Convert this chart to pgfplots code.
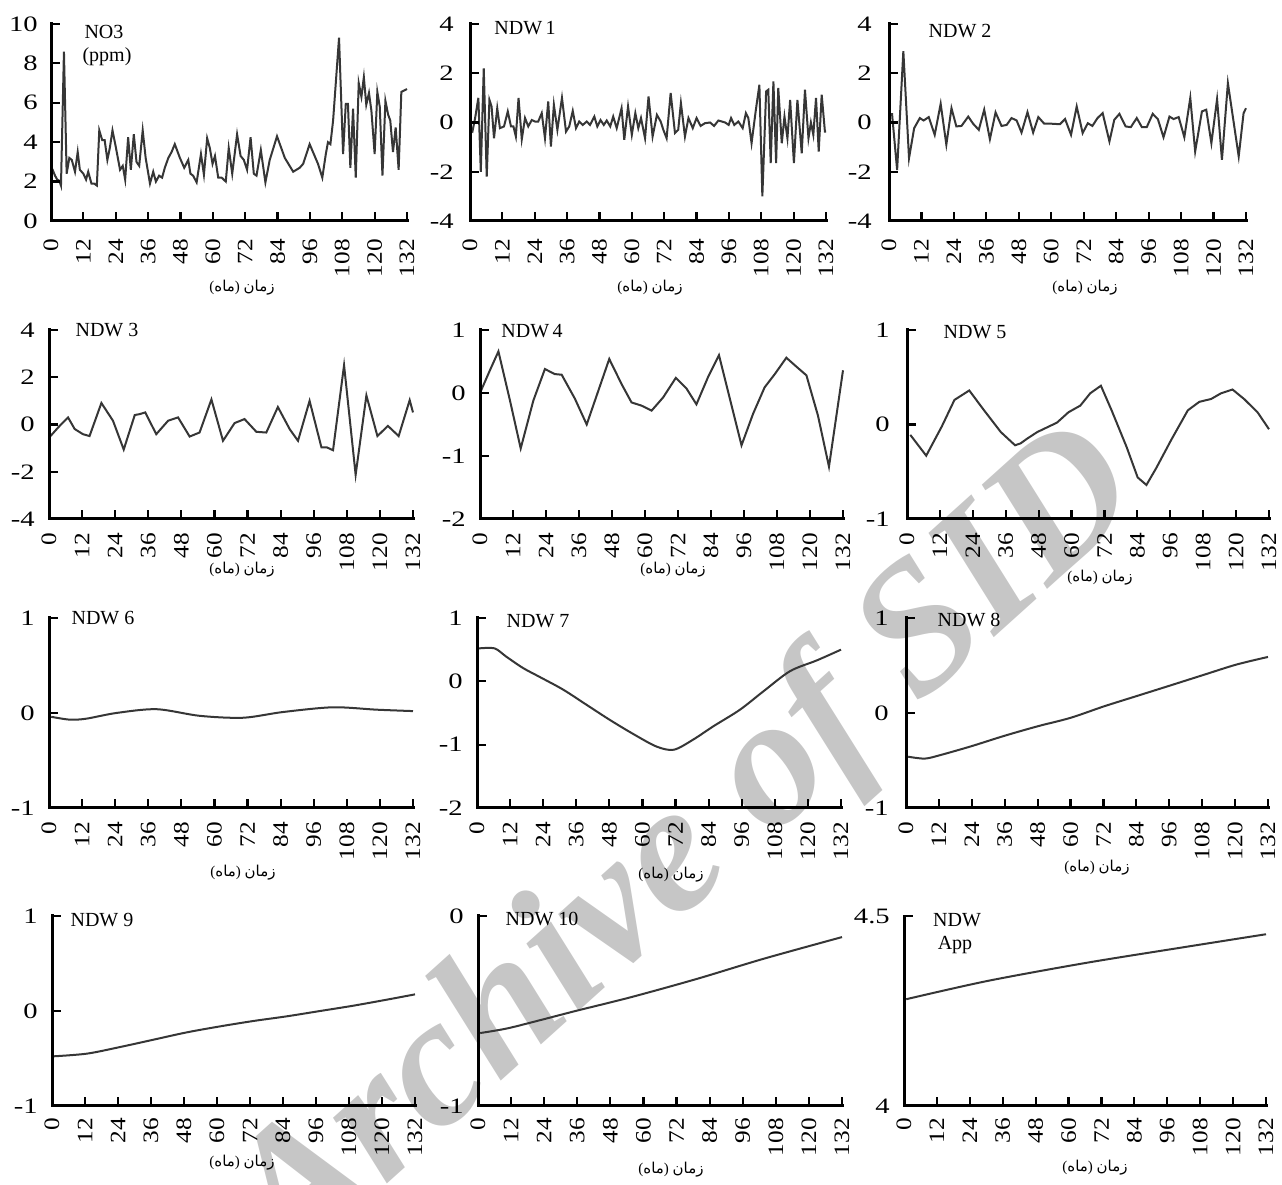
\documentclass[border=0pt]{standalone}
\usepackage{pgfplots}
\pgfplotsset{compat=1.18}
\usepackage{fontspec}
\setmainfont{Liberation Serif}
\newfontfamily\arabicfont[Script=Arabic]{DejaVu Sans}
\TeXXeTstate=1
\definecolor{linegray}{HTML}{363636}
\definecolor{wmgray}{HTML}{C6C6C6}
\tikzset{dline/.style={draw=linegray, line width=2pt, mark=none}}
\def\yfracs{1}
\newcommand{\paneldeco}{%
  \foreach \fx in {0.090909,0.181818,0.272727,0.363636,0.454545,0.545455,0.636364,0.727273,0.818182,0.909091,1}
    {\edef\temp{\noexpand\draw[black, line width=2.2pt] (rel axis cs:\fx,0) -- ++(0pt,9pt);}\temp}%
  \foreach \fy in \yfracs
    {\edef\temp{\noexpand\draw[black, line width=2.2pt] (rel axis cs:0,\fy) -- ++(9pt,0pt);}\temp}%
  \draw[black, line width=3pt, line cap=rect] (rel axis cs:0,1) -- (rel axis cs:0,0) -- (rel axis cs:1,0);}
\pgfplotsset{panel/.style={
  scale only axis,
  axis line style={draw=none},
  xmin=0, xmax=132,
  xtick={0,12,...,132},
  xtick pos=left, ytick pos=left,
  tick align=inside,
  major tick length=9pt,
  every major tick/.append style={draw=black, line width=2.2pt},
  xticklabel style={rotate=90, anchor=east, inner sep=0pt, font=\fontsize{22}{22}\selectfont, xscale=1.15},
  yticklabel style={anchor=east, inner sep=0pt, font=\fontsize{22}{22}\selectfont, xscale=1.3},
  xticklabel shift=14pt,
  yticklabel shift=14pt,
  /pgf/number format/assume math mode=true,
  clip=false,
  execute at end axis={\paneldeco},
}}
\newcommand{\xlab}[2]{\node[font=\fontsize{15}{15}\selectfont, inner sep=0pt] at (#1pt,#2pt) {(\arabicfont\beginR ماه\endR\normalfont)\ {\arabicfont\beginR زمان\endR}};}
\newcommand{\ttl}[3]{\node[font=\fontsize{20}{20}\selectfont, anchor=base, inner sep=0pt] at (#1pt,#2pt) {#3};}
\begin{document}
\begin{tikzpicture}
\useasboundingbox (0pt,0pt) rectangle (1282pt,1185pt);
% watermark (background)
\node[rotate=42, text=wmgray, font=\fontsize{185}{185}\selectfont\bfseries\itshape, inner sep=0pt] at (690pt,335pt) {Archive of SID};
% ---------------- Row 1
\def\yfracs{0.2,0.4,0.6,0.8,1}
\begin{axis}[panel, xticklabel shift=18pt, yticklabel shift=13pt, at={(51pt,964pt)}, anchor=south west, width=356pt, height=197pt, ymin=0, ymax=10, ytick={0,2,...,10}]
\addplot[dline] coordinates {(0.5,2.64)(1.5,2.3)(2.3,2.1)(3.1,2.04)(3.7,1.8)(4.8,8.6)(5.8,2.4)(6.8,3.2)(7.7,3.1)(8.9,2.5)(9.9,3.5)(10.7,2.6)(12,2.4)(13,2.1)(13.8,2.5)(15,1.9)(16,1.9)(17,1.8)(17.9,4.6)(19,4.1)(19.9,4.1)(20.9,3.1)(21.8,3.7)(22.8,4.6)(24.1,3.7)(25.6,2.6)(26.6,2.8)(27.5,2.1)(28.6,4.25)(29.6,2.6)(30.7,4.4)(31.7,3.0)(32.7,2.8)(34,4.6)(35.1,3.2)(36.7,1.9)(37.9,2.5)(38.9,2.0)(40.1,2.3)(41.2,2.2)(42.2,2.7)(43.5,3.2)(44.7,3.5)(45.9,3.9)(47.8,3.2)(49.4,2.7)(50.9,3.1)(51.7,2.4)(52.7,2.3)(54,1.96)(55.6,3.4)(56.7,2.35)(57.9,4.2)(58.9,3.7)(59.9,2.9)(60.8,3.3)(62,2.2)(63.3,2.2)(64.8,2.0)(65.9,3.7)(67.2,2.4)(69,4.4)(70.3,3.3)(71.5,3.1)(72.7,2.6)(74,4.25)(75.2,2.4)(76.2,2.3)(77.8,3.6)(79.5,1.96)(81.1,3.1)(83.8,4.3)(86.7,3.2)(89.8,2.5)(92.2,2.7)(93.5,2.9)(95.9,3.9)(99,2.9)(100.6,2.2)(101.9,3.4)(102.7,4.0)(103.6,3.9)(104.6,5.1)(106.8,9.3)(108.3,3.4)(109.3,5.95)(110.1,5.95)(111,2.7)(112,5.7)(113,2.2)(114.1,7.0)(115.1,6.3)(116,7.3)(116.9,5.9)(117.9,6.5)(118.8,5.6)(120,3.4)(121,6.55)(121.9,5.8)(122.9,2.3)(124,6.1)(125,5.4)(125.8,5.1)(126.8,3.5)(127.8,4.75)(128.9,2.6)(129.9,6.55)(132,6.7)};
\end{axis}
\def\yfracs{0.25,0.5,0.75,1}
\begin{axis}[panel, xticklabel shift=18pt, yticklabel shift=16pt, at={(470pt,964pt)}, anchor=south west, width=356pt, height=197pt, ymin=-4, ymax=4, ytick={-4,-2,...,4}]
\addplot[dline] coordinates {(0,-0.3)(0.9,-0.37)(1.9,0.18)(3.1,1.0)(4,-2.0)(5.1,2.2)(6.2,-2.2)(7.2,0.92)(8.0,0.65)(8.9,-0.64)(10.1,0.58)(11.1,-0.23)(12.6,-0.16)(14,0.45)(15.2,-0.16)(16.1,-0.16)(17,-0.57)(18,1.0)(19.2,-0.68)(20.4,0.18)(21.6,-0.16)(22.9,0.1)(24.1,0.04)(25.3,0.04)(26.6,0.38)(27.8,-0.64)(29,0.85)(30,-0.98)(31.1,0.72)(32.4,-0.3)(34.1,1.0)(35.6,-0.37)(36.8,-0.16)(38.1,0.47)(39.3,-0.23)(40.5,0.04)(41.8,-0.1)(43.3,0.04)(44.5,-0.1)(46.1,0.24)(47.2,-0.16)(48.4,0.1)(49.6,-0.1)(50.7,0.08)(52,-0.16)(53.1,0.24)(54.4,-0.23)(56.2,0.58)(57.2,-0.7)(58.6,0.65)(60,-0.5)(61.3,0.38)(62.4,-0.23)(63.4,0.18)(64.9,-0.64)(66.2,1.06)(67.7,-0.57)(69.3,0.31)(70.7,0.04)(71.7,-0.3)(72.9,-0.64)(74.4,1.2)(76,-0.43)(77.2,-0.3)(78.2,0.79)(79.7,-0.57)(81,0.18)(82.6,-0.23)(84,0.18)(85.5,-0.14)(87.1,-0.03)(89,0)(90.5,-0.14)(92.1,0.08)(94.6,0)(95.9,-0.1)(96.8,0.18)(98,-0.1)(99.5,0.04)(101.1,-0.23)(102.3,0.38)(103.2,0.18)(104.4,-0.84)(106,0.52)(107.3,1.53)(108.4,-3.0)(109.8,1.26)(110.6,1.33)(111.5,-1.65)(112.5,1.67)(113.5,-1.65)(114.3,1.4)(115.6,-0.84)(116.6,0.24)(117.7,-0.64)(118.7,0.92)(120.1,-1.65)(121.4,0.92)(123,-1.25)(124.2,1.33)(125.5,-0.64)(126.4,0)(127.3,-0.5)(128.3,1.0)(129.3,-1.18)(130.4,1.13)(131.6,-0.37)(132,-0.37)};
\end{axis}
\begin{axis}[panel, xticklabel shift=18pt, yticklabel shift=17pt, at={(889pt,964pt)}, anchor=south west, width=357pt, height=197pt, ymin=-4, ymax=4, ytick={-4,-2,...,4}]
\addplot[dline] coordinates {(1.1,0.38)(3,-1.93)(5.3,2.9)(7.4,-1.45)(9.3,-0.23)(11.4,0.18)(12.8,0.08)(14.7,0.22)(16.9,-0.5)(19.1,0.76)(21.2,-0.9)(23.1,0.58)(24.9,-0.16)(26.8,-0.14)(29.3,0.24)(31.1,-0.05)(33.2,-0.3)(35.2,0.52)(37.3,-0.68)(39.4,0.41)(41.6,-0.14)(43.5,-0.1)(45.3,0.18)(47.2,0.08)(49,-0.41)(51.2,0.42)(53.3,-0.41)(55.2,0.22)(57.4,-0.05)(60.1,-0.05)(63.2,-0.07)(65.1,0.14)(67.3,-0.5)(69.4,0.65)(71.6,-0.43)(73.5,-0.03)(75.2,-0.14)(77.1,0.18)(79,0.38)(81.5,-0.77)(83.3,0.11)(85.2,0.35)(87.5,-0.16)(89.4,-0.19)(91.6,0.18)(93.5,-0.19)(95.3,-0.19)(97.5,0.35)(99.4,0.14)(101.5,-0.6)(103.7,0.24)(105.2,0.14)(107.1,0.22)(109.2,-0.6)(111.4,1.0)(113.2,-1.18)(115.7,0.45)(117.3,0.52)(119.2,-0.84)(121.3,0.95)(123.1,-1.52)(125.3,1.6)(129.3,-1.38)(131.1,0.38)(132,0.58)};
\end{axis}
% ---------------- Row 2
\begin{axis}[panel, at={(49pt,666pt)}, anchor=south west, width=364pt, height=189pt, ymin=-4, ymax=4, ytick={-4,-2,...,4}]
\addplot[dline] coordinates {(0,-0.56)(3.3,-0.13)(5.1,0.09)(6.9,0.3)(9.3,-0.19)(12.3,-0.41)(14.7,-0.49)(19,0.91)(23.2,0.16)(27.1,-1.06)(31.1,0.4)(32.9,0.44)(34.9,0.51)(38.9,-0.41)(43.2,0.16)(46.8,0.3)(51,-0.51)(54.6,-0.34)(58.9,1.06)(63.1,-0.69)(67.3,0.06)(70.9,0.23)(75.2,-0.31)(78.8,-0.34)(83,0.74)(87.3,-0.2)(90.3,-0.69)(94.5,1.0)(98.8,-0.97)(100.8,-0.97)(103,-1.09)(107,2.51)(111.2,-2.13)(115.1,1.23)(119.1,-0.49)(122.9,-0.06)(126.8,-0.49)(130.8,1.03)(132,0.51)};
\end{axis}
\def\yfracs{0.3333,0.6667,1}
\begin{axis}[panel, at={(480pt,666pt)}, anchor=south west, width=363pt, height=189pt, ymin=-2, ymax=1, ytick={-2,-1,0,1}]
\addplot[dline] coordinates {(0,0)(3.6,0.36)(6.7,0.66)(10.9,-0.12)(14.8,-0.88)(19.4,-0.12)(23.6,0.38)(27.2,0.3)(29.7,0.29)(34.5,-0.09)(38.8,-0.5)(47,0.54)(51.5,0.14)(55.1,-0.15)(58.7,-0.2)(62.4,-0.28)(66.6,-0.07)(71.2,0.24)(75.1,0.07)(78.7,-0.18)(82.9,0.25)(86.9,0.6)(95.1,-0.83)(99.3,-0.33)(103.5,0.09)(107.2,0.3)(111.4,0.56)(115,0.42)(118.7,0.28)(122.9,-0.36)(126.9,-1.17)(132,0.36)};
\end{axis}
\def\yfracs{0.5,1}
\begin{axis}[panel, yticklabel shift=17pt, at={(907pt,666pt)}, anchor=south west, width=362pt, height=189pt, ymin=-1, ymax=1, ytick={-1,0,1}]
\addplot[dline] coordinates {(1.2,-0.11)(7,-0.33)(12.7,-0.02)(17.3,0.26)(22.7,0.36)(28.1,0.15)(34.2,-0.08)(39.4,-0.22)(41.4,-0.2)(43.8,-0.15)(47.5,-0.08)(51.1,-0.03)(54.7,0.02)(58.9,0.13)(63.2,0.2)(66.8,0.33)(70.7,0.41)(74.6,0.15)(80.1,-0.24)(84.1,-0.56)(87.3,-0.64)(90.9,-0.46)(96.4,-0.16)(102.4,0.15)(106.6,0.24)(110.9,0.27)(114.5,0.33)(118.7,0.37)(122.9,0.27)(127.8,0.13)(132,-0.05)};
\end{axis}
% ---------------- Row 3
\begin{axis}[panel, at={(49pt,377pt)}, anchor=south west, width=364pt, height=190pt, ymin=-1, ymax=1, ytick={-1,0,1}]
\addplot[dline, smooth] coordinates {(0.8,-0.04)(7.5,-0.07)(13.5,-0.06)(24.4,0)(39,0.04)(54.7,-0.03)(70.4,-0.05)(84.8,0.01)(102.9,0.06)(118.7,0.035)(132,0.02)};
\end{axis}
\def\yfracs{0.3333,0.6667,1}
\begin{axis}[panel, at={(477pt,377pt)}, anchor=south west, width=364pt, height=190pt, ymin=-2, ymax=1, ytick={-2,-1,0,1}]
\addplot[dline, smooth] coordinates {(0.7,0.52)(6.4,0.52)(10.6,0.39)(16.7,0.21)(22.7,0.07)(31.2,-0.13)(39.7,-0.37)(48.2,-0.61)(56.6,-0.83)(65.1,-1.03)(71.4,-1.08)(78.4,-0.92)(85.7,-0.71)(95.3,-0.45)(103.8,-0.16)(113.5,0.16)(123.2,0.33)(132,0.5)};
\end{axis}
\def\yfracs{0.5,1}
\begin{axis}[panel, yticklabel shift=17pt, at={(906pt,377pt)}, anchor=south west, width=362pt, height=190pt, ymin=-1, ymax=1, ytick={-1,0,1}]
\addplot[dline, smooth] coordinates {(0.8,-0.46)(6.9,-0.48)(12.9,-0.44)(23.8,-0.35)(35.9,-0.24)(48,-0.14)(60.1,-0.05)(72.2,0.07)(84.3,0.18)(96.4,0.29)(108.4,0.4)(120.5,0.51)(132,0.59)};
\end{axis}
% ---------------- Row 4
\begin{axis}[panel, xticklabel shift=12pt, at={(52pt,79pt)}, anchor=south west, width=363pt, height=190pt, ymin=-1, ymax=1, ytick={-1,0,1}]
\addplot[dline, smooth] coordinates {(0.6,-0.477)(12.7,-0.449)(24.8,-0.379)(36.9,-0.302)(49.0,-0.225)(61.1,-0.162)(73.3,-0.105)(85.4,-0.056)(97.5,0)(109.6,0.056)(121.7,0.119)(132,0.175)};
\end{axis}
\def\yfracs{1}
\begin{axis}[panel, xticklabel shift=12pt, at={(478pt,79pt)}, anchor=south west, width=364pt, height=190pt, ymin=-1, ymax=0, ytick={-1,0}]
\addplot[dline, smooth] coordinates {(0.8,-0.616)(10.5,-0.592)(22.6,-0.548)(35.9,-0.498)(55.3,-0.428)(79.4,-0.331)(103.6,-0.225)(132,-0.111)};
\end{axis}
\begin{axis}[panel, xticklabel shift=12pt, at={(904pt,79pt)}, anchor=south west, width=362pt, height=190pt, ymin=4, ymax=4.5, ytick={4,4.5}]
\addplot[dline, smooth] coordinates {(0.8,4.281)(30.4,4.329)(66.7,4.377)(103,4.419)(132,4.452)};
\end{axis}
% ---------------- titles
\ttl{104}{1146}{NO3}
\ttl{107}{1123}{(ppm)}
\ttl{525}{1150}{NDW\,1}
\ttl{960}{1147}{NDW 2}
\ttl{107}{848}{NDW 3}
\ttl{532}{847}{NDW\,4}
\ttl{975}{846}{NDW 5}
\ttl{103}{560}{NDW 6}
\ttl{538}{557}{NDW 7}
\ttl{969}{558}{NDW 8}
\ttl{102}{258}{NDW 9}
\ttl{542}{259}{NDW 10}
\ttl{957}{258}{NDW}
\ttl{955}{235}{App}
% ---------------- x labels
\xlab{242}{897}\xlab{650}{897}\xlab{1085}{897}
\xlab{242}{615}\xlab{673}{615}\xlab{1100}{607}
\xlab{243}{312}\xlab{671}{310}\xlab{1097}{317}
\xlab{242}{22}\xlab{671}{15}\xlab{1095}{17}
\end{tikzpicture}
\end{document}
